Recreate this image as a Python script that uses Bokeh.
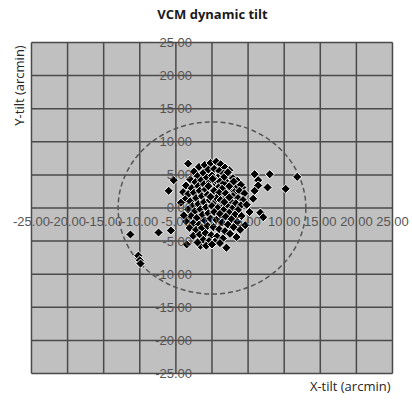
import math
from bokeh.plotting import figure
from bokeh.models import Range1d, FixedTicker, NumeralTickFormatter, Label
from bokeh.embed import file_html
from bokeh.resources import INLINE

# tick values (arcmin)
ticks = [-25, -20, -15, -10, -5, 0, 5, 10, 15, 20, 25]
limit_radius = 13.0  # dashed limit circle radius, arcmin

# measured tilt points (arcmin)
tilt_x = [
    -11.3, -7.4, -10.2, -10.0, -9.9, 5.9, 8.0, 11.8, 6.4, 6.4, 7.7, 10.2, 5.9, 4.2, 5.7, 6.7, 7.1,
    -3.3, -5.3, -6.0, -5.7, -3.5, -1.6, -0.5, 0.6, 2.8, 2.3,
    -2.5, -1.8, -1.0, -0.2, 0.6, 1.2, 1.8, 2.4, -2.0, -1.2, -0.5, 0.3, 1.0, 1.6, 2.2, 2.9, 3.5,
    -3.0, -2.3, -1.5, -0.7, 0.0, 0.8, 1.4, 2.0, 2.7, 3.3, 4.0, -3.6, -2.8, -1.9, -1.1, -0.3, 0.5,
    1.2, 1.9, 2.5, 3.1, 3.8, 4.5,
    -4.0, -3.3, -2.5, -1.7, -0.9, -0.1, 0.7, 1.5, 2.2, 2.9, 3.6, 4.3, -3.7, -3.0, -2.2, -1.4, -0.6,
    0.2, 1.0, 1.8, 2.6, 3.3, 4.0, -2.7, -1.9, -1.1, -0.3, 0.5, 1.3, 2.1, 2.8, 3.6, -3.3, -2.4, -1.6,
    -0.8, 0.0, 0.8, 1.6, 2.4, 3.2, 4.1,
    -2.9, -2.1, -1.3, -0.5, 0.3, 1.1, 1.9, 2.7, 3.5, -3.6, -2.6, -1.8, -1.0, -0.2, 0.6, 1.4, 2.2,
    3.0, -3.1, -2.2, -1.4, -0.6, 0.2, 1.0, 1.8, 2.5, -2.6, -1.7, -0.9, -0.1, 0.7, 1.5, -1.2, -0.4,
    0.4, 1.1, -2.0, -0.8, 0.0,
    0.5, 1.1, 1.6, 0.9, 1.4, 0.3, 2.4, 1.7, 0.1, -0.5, 2.2, 3.0, 1.0, 1.9, 0.6, -0.2, 1.2, 2.4, 1.7,
    4.8, 5.2, 4.6, 3.9, -4.3, -3.9, 2.0, 3.4,
]
tilt_y = [
    -4.0, -3.7, -7.2, -7.9, -8.4, 5.1, 5.1, 4.7, 4.2, 3.4, 3.1, 2.9, 2.6, 3.1, 1.4, -0.7, -1.4,
    6.7, 4.2, 2.6, -3.4, -5.5, -5.7, -5.4, 7.0, -2.9, -2.2,
    5.5, 6.2, 6.5, 6.8, 7.0, 6.6, 6.1, 5.7, 4.8, 5.3, 5.8, 5.9, 5.6, 5.2, 4.9, 4.5, 4.1,
    4.3, 3.9, 4.2, 4.6, 4.9, 4.6, 4.3, 3.9, 3.6, 3.3, 3.5, 3.4, 3.0, 3.3, 3.6, 3.9, 3.7,
    3.4, 3.0, 2.7, 2.4, 2.6, 2.2,
    2.4, 2.1, 2.3, 2.6, 2.8, 3.0, 2.8, 2.5, 2.1, 1.8, 1.5, 1.2, 1.3, 1.0, 1.5, 1.8, 2.0,
    2.1, 1.8, 1.5, 1.0, 0.7, 0.4, 0.3, 0.6, 0.9, 1.2, 1.0, 0.7, 0.3, -0.1, -0.3, -0.2, -0.5, -0.2,
    0.1, 0.3, 0.0, -0.3, -0.7, -1.0, -1.2,
    -1.2, -1.5, -1.0, -0.8, -0.6, -0.9, -1.3, -1.7, -2.1, -2.0, -2.3, -2.5, -1.9, -1.6, -1.8, -2.2, -2.5,
    -2.9, -3.0, -3.3, -3.0, -2.7, -2.9, -3.2, -3.5, -3.9, -4.2, -4.0, -3.8, -4.1, -4.3, -4.6, -4.8, -5.0,
    -5.1, -5.3, -5.2, -5.7, -5.5,
    4.2, 4.0, 3.7, 3.1, 2.9, 2.6, 3.3, 4.7, 4.4, 3.3, 5.4, 4.0, 2.3, 2.2, 1.5, 1.7, 1.2, 1.6, 0.9,
    0.5, -0.6, -2.6, -3.3, 0.8, -1.1, -6.0, -4.4,
]

W, H = 412, 403
grid_col = "#4a4a4a"
p = figure(width=W, height=H, output_backend="svg", toolbar_location=None,
           x_range=Range1d(-29.29, 27.77), y_range=Range1d(-29.53, 31.34),
           min_border=0, background_fill_color="white", border_fill_color="white")
p.title = None
p.outline_line_color = None
p.grid.visible = False

# gray plot area
p.quad(left=ticks[0], right=ticks[-1], bottom=ticks[0], top=ticks[-1],
       fill_color="#c0c0c0", line_color=None)

# grid lines restricted to the plot area
lo, hi = ticks[0], ticks[-1]
p.segment(x0=ticks, x1=ticks, y0=[lo] * len(ticks), y1=[hi] * len(ticks),
          line_color=grid_col, line_width=1.5)
p.segment(x0=[lo] * len(ticks), x1=[hi] * len(ticks), y0=ticks, y1=ticks,
          line_color=grid_col, line_width=1.5)

for ax in (p.xaxis, p.yaxis):
    ax.ticker = FixedTicker(ticks=ticks)
    ax.formatter = NumeralTickFormatter(format="0.00")
    ax.fixed_location = 0
    ax.axis_line_color = None
    ax.major_tick_line_color = None
    ax.minor_tick_line_color = None
    ax.major_label_text_font = "Liberation Sans"
    ax.major_label_text_font_size = "13px"
    ax.major_label_text_color = "#555555"
p.xaxis.major_label_standoff = 3
p.yaxis.major_label_standoff = 14

p.ellipse(x=0, y=0, width=2 * limit_radius, height=2 * limit_radius, fill_color=None,
          line_color="#555555", line_width=1.5, line_dash="5 3")

p.scatter(tilt_x, tilt_y, marker="square", size=6.5, angle=math.pi / 4,
          fill_color="black", line_color="white", line_width=1)

p.add_layout(Label(x=212, y=H - 13, x_units="screen", y_units="screen", text="VCM dynamic tilt",
                   text_align="center", text_baseline="middle", text_font="Open Sans",
                   text_font_size="13px", text_font_style="bold", text_color="#1a1a1a"))
p.add_layout(Label(x=18, y=H - 85, x_units="screen", y_units="screen", text="Y-tilt (arcmin)",
                   angle=math.pi / 2, text_align="center", text_baseline="middle",
                   text_font="Open Sans", text_font_size="13px", text_color="#262626"))
p.add_layout(Label(x=390, y=H - 385, x_units="screen", y_units="screen", text="X-tilt (arcmin)",
                   text_align="right", text_baseline="middle",
                   text_font="Open Sans", text_font_size="13px", text_color="#262626"))

open("out.html", "w").write(file_html(p, INLINE))
